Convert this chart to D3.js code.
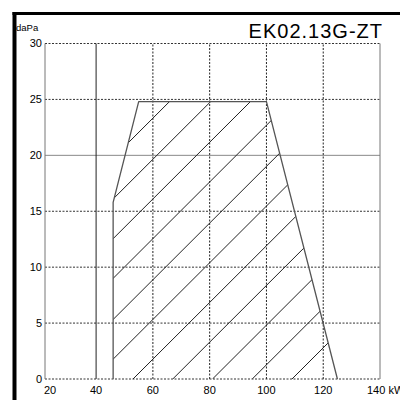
<!DOCTYPE html>
<html>
<head>
<meta charset="utf-8">
<script src="https://cdn.jsdelivr.net/npm/d3@7"></script>
<style>
  body { margin: 0; background: #fff; }
  text { font-family: "Liberation Sans", Arial, sans-serif; }
</style>
</head>
<body>
<div id="wrapper"></div>
<script>
const chartTitle = "EK02.13G-ZT"
const yUnit = "daPa"
const xUnit = "kW"
const yTicks = [0, 5, 10, 15, 20, 25, 30]
const xTicks = [40, 60, 80, 100, 120, 140]
const xFirstLabel = "20"
// working field of the burner (kW, daPa)
const fieldKw = [46, 46, 55, 100, 125]
const fieldPa = [0, 15.8, 24.8, 24.8, 0]
// hatch lines: where each one crosses 0 daPa, and their slope in daPa per kW
const hatchStarts = [-46, -32, -17.5, -3.5, 10.5, 25, 39, 53, 67, 81, 95, 109]
const hatchSlope = 0.2535

function drawChart() {
    const dimensions = {width: 400, height: 400, left: 45, right: 380, top: 43.5, bottom: 379}
    const svg = d3.select("#wrapper").append("svg")
        .attr("width", dimensions.width)
        .attr("height", dimensions.height)
        .style("display", "block")

    const xScale = d3.scaleLinear().domain([22, 140]).range([dimensions.left, dimensions.right])
    const yScale = d3.scaleLinear().domain([0, 30]).range([dimensions.bottom, dimensions.top])

    // frame of the scanned sheet
    svg.append("rect").attr("x", 12.5).attr("y", 12).attr("width", 4).attr("height", 400).attr("fill", "#000")
    svg.append("rect").attr("x", 12.5).attr("y", 12).attr("width", 400).attr("height", 3).attr("fill", "#000")

    // grid
    svg.append("g").selectAll("line").data(yTicks).join("line")
        .attr("x1", xScale(22)).attr("x2", xScale(140))
        .attr("y1", d => yScale(d)).attr("y2", d => yScale(d))
        .attr("stroke", d => d === 20 ? "#888" : "#333")
        .attr("stroke-dasharray", d => d === 20 ? null : "2,1.5")
    svg.append("g").selectAll("line").data(xTicks).join("line")
        .attr("x1", d => xScale(d)).attr("x2", d => xScale(d))
        .attr("y1", yScale(0)).attr("y2", yScale(30))
        .attr("stroke", d => d === 140 ? "#777" : "#222")
        .attr("stroke-dasharray", d => (d === 40 || d === 140) ? null : "2,1.5")
    svg.append("line")
        .attr("x1", xScale(22)).attr("x2", xScale(22))
        .attr("y1", yScale(0)).attr("y2", yScale(30))
        .attr("stroke", "#777")

    // hatched field
    const field = fieldKw.map((k, i) => [k, fieldPa[i]])
    const lineGenerator = d3.line().x(d => xScale(d[0])).y(d => yScale(d[1]))
    svg.append("clipPath").attr("id", "field-clip")
        .append("path").attr("d", lineGenerator(field) + "Z")
    svg.append("g").attr("clip-path", "url(#field-clip)")
        .selectAll("line").data(hatchStarts).join("line")
        .attr("x1", d => xScale(d)).attr("y1", yScale(0))
        .attr("x2", d => xScale(d + 30 / hatchSlope)).attr("y2", yScale(30))
        .attr("stroke", "#222").attr("stroke-width", 1)
    svg.append("path")
        .attr("d", lineGenerator(field))
        .attr("fill", "none")
        .attr("stroke", "#555")
        .attr("stroke-width", 1.3)
        .attr("stroke-linejoin", "round")

    // labels
    svg.append("g").selectAll("text").data(yTicks).join("text")
        .attr("x", 42).attr("y", d => yScale(d)).attr("dy", "0.35em")
        .attr("text-anchor", "end").attr("font-size", 11).text(d => d)
    svg.append("text").attr("x", xScale(22) - 1).attr("y", 394)
        .attr("font-size", 11).text(xFirstLabel)
    svg.append("g").selectAll("text").data(xTicks).join("text")
        .attr("x", d => d === 140 ? xScale(d) - 13 : xScale(d))
        .attr("y", 394)
        .attr("text-anchor", d => d === 140 ? "start" : "middle")
        .attr("font-size", 11)
        .text(d => d === 140 ? d + " " + xUnit : d)
    svg.append("text").attr("x", 16).attr("y", 31).attr("font-size", 9.5).text(yUnit)
    svg.append("text").attr("x", 383).attr("y", 37.5)
        .attr("text-anchor", "end").attr("font-size", 20).attr("letter-spacing", 1)
        .text(chartTitle)
}

drawChart()
</script>
</body>
</html>
